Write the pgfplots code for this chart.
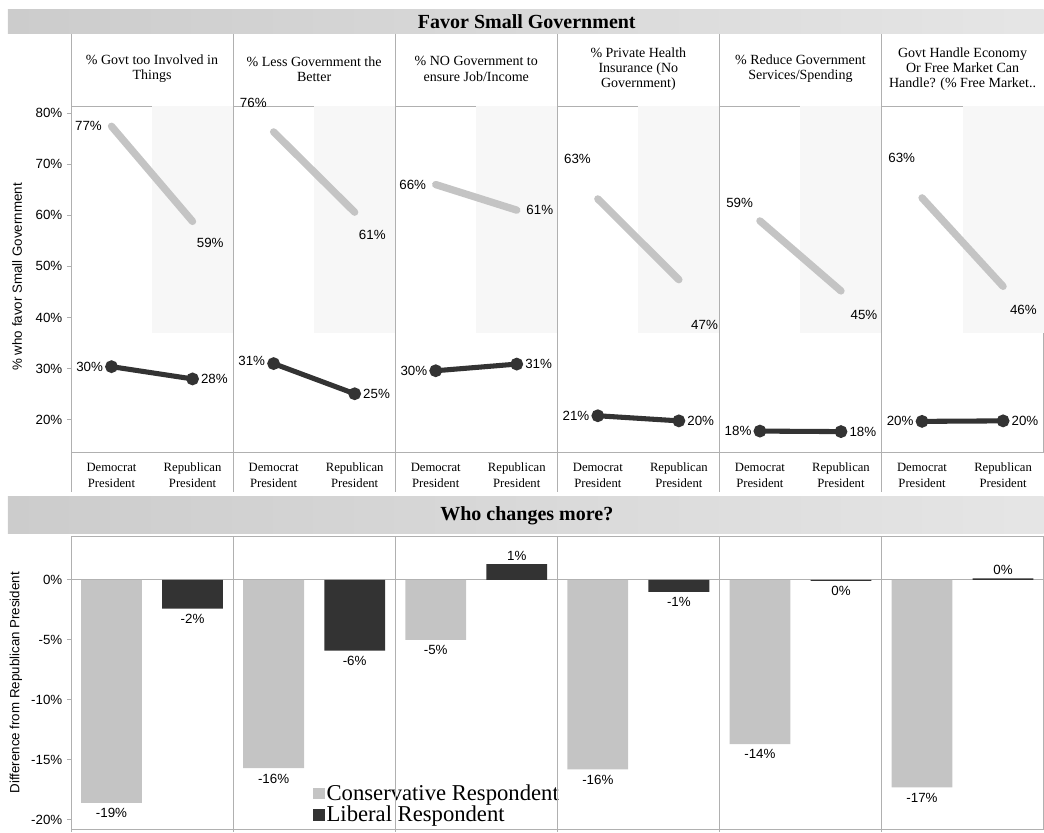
\documentclass[border=0pt]{standalone}
\usepackage{pgfplots}
\pgfplotsset{compat=1.18}
\usepackage{fontspec}
\setmainfont{Liberation Serif}
\newfontfamily\ar{Liberation Sans}
\definecolor{con}{HTML}{C4C4C4}
\definecolor{lib}{HTML}{333333}
\definecolor{frame}{HTML}{B0B0B0}
\tikzset{lab/.style={font=\ar\fontsize{10}{12}\selectfont, text=black, inner sep=1.5pt}}
\begin{document}
\begin{tikzpicture}
\begin{scope}[x=0.75pt,y=-0.75pt]
\path[use as bounding box] (0,0) rectangle (1044,832);
\shade[left color=black!20, right color=black!10] (8,10) rectangle (1044,34);
\shade[left color=black!20, right color=black!10] (8,497) rectangle (1044,534);
\end{scope}

% ---------------- top panel ----------------
\begin{axis}[at={(53.25pt,-79.5pt)}, anchor=north west, scale only axis,
  width=729.75pt, height=260.25pt,
  xmin=0, xmax=12, ymin=13.55, ymax=81.37,
  axis line style={draw=frame, line width=0.6pt},
  xtick={0.5,1.5,...,11.5},
  xticklabels={{Democrat\\President},{Republican\\President},{Democrat\\President},{Republican\\President},{Democrat\\President},{Republican\\President},{Democrat\\President},{Republican\\President},{Democrat\\President},{Republican\\President},{Democrat\\President},{Republican\\President}},
  xticklabel style={align=center, font=\fontsize{9.5}{12}\selectfont, yshift=-1pt},
  x tick style={draw=none},
  ytick={20,30,...,80}, ytick pos=left,
  yticklabel={\pgfmathprintnumber{\tick}\%},
  yticklabel style={font=\ar\fontsize{10}{12}\selectfont},
  /pgf/number format/assume math mode=true,
  y tick style={draw=frame, line width=0.6pt},
  tick align=outside, major tick length=3pt,
  clip=false,
]
\foreach \k in {1,3,5,7,9,11} {
  \edef\tmp{\noexpand\fill[black!3] (axis cs:\k,37) rectangle (axis cs:\k+1,81.37);}
  \tmp
}
% conservative lines
\addplot[con, line width=5.5pt, line cap=round] coordinates {(0.5,77.4) (1.5,58.8)}
  node[lab, pos=0, anchor=east, xshift=-3pt] {77\%}
  node[lab, pos=1, anchor=north west, xshift=-1pt, yshift=-8pt] {59\%};
\addplot[con, line width=5.5pt, line cap=round] coordinates {(2.5,76.3) (3.5,60.6)}
  node[lab, pos=0, anchor=south east, xshift=-1pt, yshift=14pt] {76\%}
  node[lab, pos=1, anchor=north west, xshift=-1pt, yshift=-9pt] {61\%};
\addplot[con, line width=5.5pt, line cap=round] coordinates {(4.5,66.0) (5.5,61.0)}
  node[lab, pos=0, anchor=east, xshift=-3pt] {66\%}
  node[lab, pos=1, anchor=west, xshift=3pt] {61\%};
\addplot[con, line width=5.5pt, line cap=round] coordinates {(6.5,63.2) (7.5,47.4)}
  node[lab, pos=0, anchor=south east, xshift=-1pt, yshift=22pt] {63\%}
  node[lab, pos=1, anchor=north west, xshift=5pt, yshift=-26pt] {47\%};
\addplot[con, line width=5.5pt, line cap=round] coordinates {(8.5,58.9) (9.5,45.2)}
  node[lab, pos=0, anchor=south east, xshift=-1pt, yshift=6pt] {59\%}
  node[lab, pos=1, anchor=north west, xshift=3pt, yshift=-10pt] {45\%};
\addplot[con, line width=5.5pt, line cap=round] coordinates {(10.5,63.4) (11.5,46.1)}
  node[lab, pos=0, anchor=south east, xshift=-1pt, yshift=22pt] {63\%}
  node[lab, pos=1, anchor=north west, xshift=1pt, yshift=-10pt] {46\%};
% liberal lines
\addplot[lib, line width=3.8pt, mark=*, mark size=2.8pt] coordinates {(0.5,30.4) (1.5,28.0)}
  node[lab, pos=0, anchor=east, xshift=-3pt] {30\%}
  node[lab, pos=1, anchor=west, xshift=3pt] {28\%};
\addplot[lib, line width=3.8pt, mark=*, mark size=2.8pt] coordinates {(2.5,31.0) (3.5,25.1)}
  node[lab, pos=0, anchor=east, xshift=-3pt, yshift=2pt] {31\%}
  node[lab, pos=1, anchor=west, xshift=3pt] {25\%};
\addplot[lib, line width=3.8pt, mark=*, mark size=2.8pt] coordinates {(4.5,29.6) (5.5,30.9)}
  node[lab, pos=0, anchor=east, xshift=-3pt] {30\%}
  node[lab, pos=1, anchor=west, xshift=3pt] {31\%};
\addplot[lib, line width=3.8pt, mark=*, mark size=2.8pt] coordinates {(6.5,20.8) (7.5,19.8)}
  node[lab, pos=0, anchor=east, xshift=-3pt] {21\%}
  node[lab, pos=1, anchor=west, xshift=3pt] {20\%};
\addplot[lib, line width=3.8pt, mark=*, mark size=2.8pt] coordinates {(8.5,17.8) (9.5,17.7)}
  node[lab, pos=0, anchor=east, xshift=-3pt] {18\%}
  node[lab, pos=1, anchor=west, xshift=3pt] {18\%};
\addplot[lib, line width=3.8pt, mark=*, mark size=2.8pt] coordinates {(10.5,19.7) (11.5,19.8)}
  node[lab, pos=0, anchor=east, xshift=-3pt] {20\%}
  node[lab, pos=1, anchor=west, xshift=3pt] {20\%};
\end{axis}

% ---------------- bottom panel ----------------
\begin{axis}[at={(53.25pt,-402.75pt)}, anchor=north west, scale only axis,
  width=729.75pt, height=219.75pt,
  xmin=0, xmax=12, ymin=-20.83, ymax=3.58,
  axis line style={draw=frame, line width=0.6pt},
  xtick=\empty,
  ytick={-20,-15,...,0}, ytick pos=left,
  yticklabel={\pgfmathprintnumber{\tick}\%},
  yticklabel style={font=\ar\fontsize{10}{12}\selectfont},
  /pgf/number format/assume math mode=true,
  y tick style={draw=frame, line width=0.6pt},
  tick align=outside, major tick length=3pt,
  clip=false,
  legend style={at={(0.249,0.012)}, anchor=south west, draw=none, fill=none,
    font=\fontsize{17}{19}\selectfont, inner sep=0pt, row sep=0pt,
    nodes={inner sep=1.5pt}},
  legend cell align=left,
]
\draw[frame, line width=0.6pt] (axis cs:0,0) -- (axis cs:12,0);
% conservative bars (all negative)
\addplot[ybar, bar width=0.75, bar shift=0pt, fill=con, draw=none, forget plot,
  nodes near coords, nodes near coords align={below}, point meta=explicit symbolic,
  every node near coord/.append style={lab, yshift=-2.5pt}]
  coordinates {(0.5,-18.6)[-19\%] (2.5,-15.7)[-16\%] (4.5,-5.0)[-5\%] (6.5,-15.8)[-16\%] (8.5,-13.7)[-14\%] (10.5,-17.3)[-17\%]};
% liberal bars, negative
\addplot[ybar, bar width=0.75, bar shift=0pt, fill=lib, draw=none, forget plot,
  nodes near coords, nodes near coords align={below}, point meta=explicit symbolic,
  every node near coord/.append style={lab, yshift=-2.5pt}]
  coordinates {(1.5,-2.4)[-2\%] (3.5,-5.9)[-6\%] (7.5,-1.0)[-1\%] (9.5,-0.1)[0\%]};
% liberal bars, positive
\addplot[ybar, bar width=0.75, bar shift=0pt, fill=lib, draw=none, forget plot,
  nodes near coords, nodes near coords align={above}, point meta=explicit symbolic,
  every node near coord/.append style={lab, yshift=1pt}]
  coordinates {(5.5,1.3)[1\%] (11.5,0.12)[0\%]};
\addlegendimage{legend image code/.code={\fill[con] (0pt,-4pt) rectangle (8pt,4pt);}}
\addlegendentry{Conservative Respondent}
\addlegendimage{legend image code/.code={\fill[lib] (0pt,-4pt) rectangle (8pt,4pt);}}
\addlegendentry{Liberal Respondent}
\end{axis}

\begin{scope}[x=0.75pt,y=-0.75pt]
\node[font=\fontsize{15}{18}\bfseries\selectfont] at (527,22) {Favor Small Government};
\node[font=\fontsize{15}{18}\bfseries\selectfont] at (527,516) {Who changes more?};
\foreach \k in {0,...,5} {
  \draw[frame, line width=0.6pt] ({71+162.17*\k},34) -- ({71+162.17*\k},492);
  \draw[frame, line width=0.6pt] ({71+162.17*\k},537) -- ({71+162.17*\k},832);
}
\foreach \k/\t in {0/{\% Govt too Involved in\\Things},
                   1/{\% Less Government the\\Better},
                   2/{\% NO Government to\\ensure Job/Income},
                   3/{\% Private Health\\Insurance (No\\Government)},
                   4/{\% Reduce Government\\Services/Spending},
                   5/{Govt Handle Economy\\Or Free Market Can\\Handle? (\% Free Market..}} {
  \node[align=center, font=\fontsize{10.5}{11.5}\selectfont, inner sep=0pt] at ({71+162.17*(\k+0.5)},69) {\t};
}
\node[rotate=90, font=\ar\fontsize{10}{12}\selectfont] at (17,277) {\% who favor Small Government};
\node[rotate=90, font=\ar\fontsize{10}{12}\selectfont] at (16,683) {Difference from Republican President};
\end{scope}
\end{tikzpicture}
\end{document}
